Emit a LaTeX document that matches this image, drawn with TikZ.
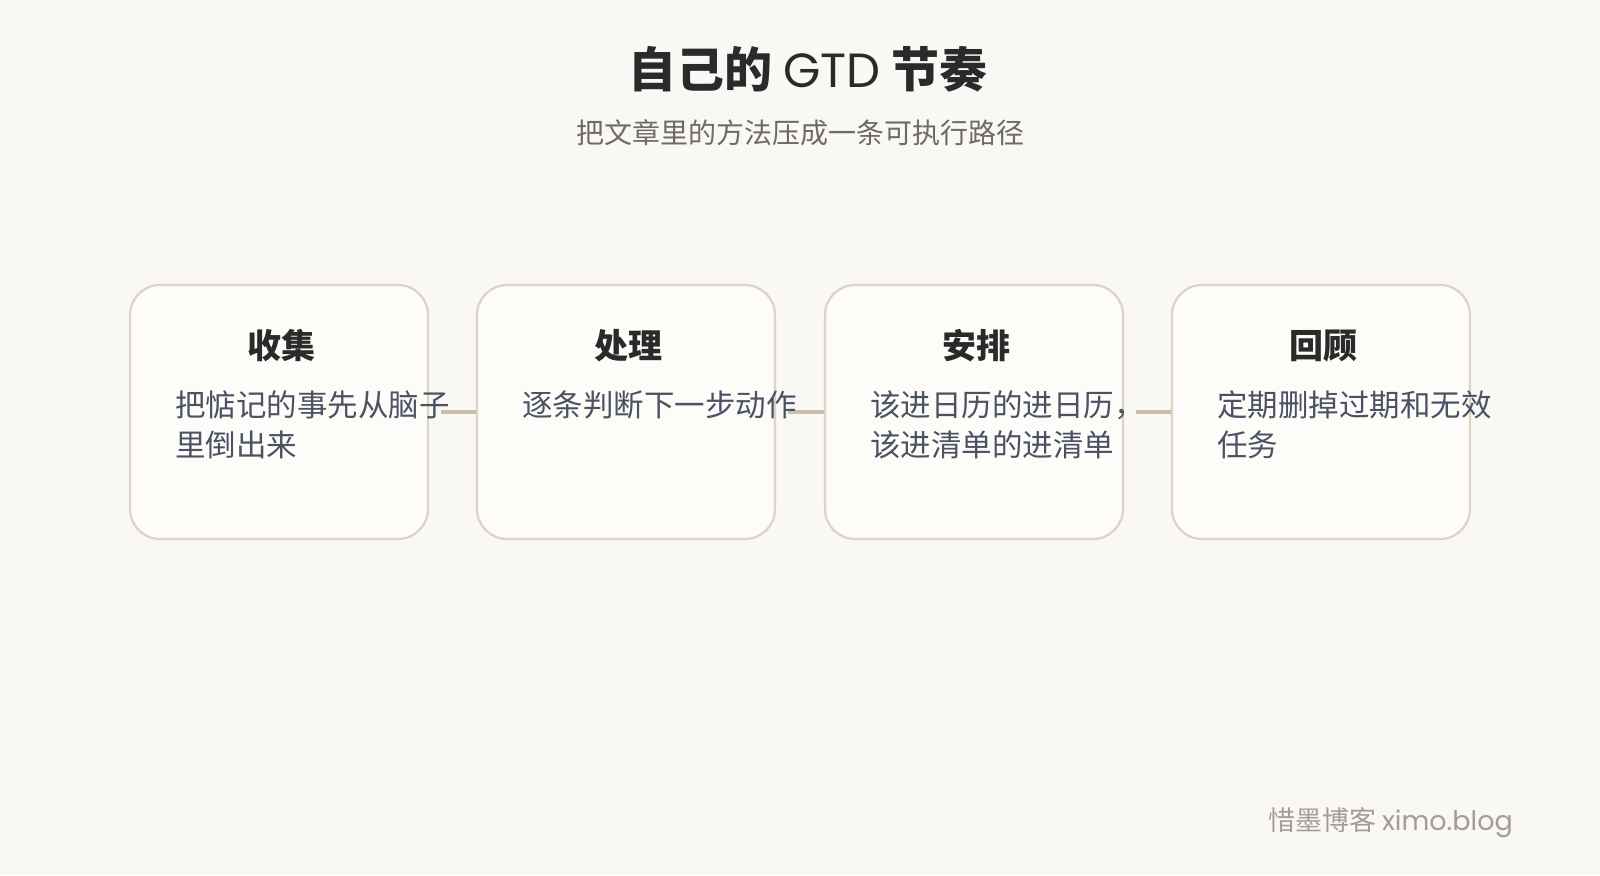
\documentclass[tikz,border=0pt]{standalone}
\usepackage{fontspec}
\setmainfont{Noto Sans CJK SC}
\newfontfamily\cjk{Noto Sans CJK SC}
\newfontfamily\latinf{Poppins}
\definecolor{bgc}{HTML}{F9F8F5}
\definecolor{boxfill}{HTML}{FDFCF9}
\definecolor{boxline}{HTML}{DDD4C5}
\definecolor{connc}{HTML}{C9BEAB}
\definecolor{titlec}{HTML}{2A2A2A}
\definecolor{subc}{HTML}{6E6A64}
\definecolor{bodyc}{HTML}{4A5263}
\definecolor{footc}{HTML}{A39D93}
\tikzset{
  stepbox/.style={draw=boxline, line width=2.2pt, fill=boxfill, rounded corners=30pt,
    minimum width=298pt, minimum height=254pt, inner sep=0pt},
  conn/.style={draw=connc, line width=3.6pt},
  boxtitle/.style={anchor=base, inner sep=0pt, text=titlec, font=\fontsize{34}{40}\selectfont\bfseries},
  boxbody/.style={anchor=base west, inner sep=0pt, text=bodyc, align=left, font=\fontsize{30.5}{40}\selectfont},
}
\begin{document}
\begin{tikzpicture}[x=1pt,y=-1pt]
\fill[bgc] (0,0) rectangle (1600,875);
\useasboundingbox (0,0) rectangle (1600,875);
\node[anchor=base, inner sep=0pt, text=titlec, font=\fontsize{48}{52}\selectfont\bfseries] (title) at (808,87) {自己的 {\latinf\mdseries GTD} 节奏};
\node[anchor=base, inner sep=0pt, text=subc, font=\fontsize{28}{32}\selectfont] (sub) at (800,143) {把文章里的方法压成一条可执行路径};
\node[stepbox] (b1) at (279,412) {};
\node[stepbox] (b2) at (626,412) {};
\node[stepbox] (b3) at (974,412) {};
\node[stepbox] (b4) at (1321,412) {};
\draw[conn] ([xshift=12pt]b1.east) -- (b2.west);
\draw[conn] ([xshift=12pt]b2.east) -- (b3.west);
\draw[conn] ([xshift=12pt]b3.east) -- (b4.west);
\node[boxtitle] (t1) at (281,358) {收集};
\node[boxtitle] (t2) at (628,358) {处理};
\node[boxtitle] (t3) at (976,358) {安排};
\node[boxtitle] (t4) at (1323,358) {回顾};
\node[boxbody] (d1) at (175,456) {把惦记的事先从脑子\\里倒出来};
\node[boxbody] (d2) at (522,416) {逐条判断下一步动作};
\node[boxbody] (d3) at (870,456) {该进日历的进日历，\\该进清单的进清单};
\node[boxbody] (d4) at (1217,456) {定期删掉过期和无效\\任务};
\node[anchor=base east, inner sep=0pt, text=footc, font=\fontsize{27}{30}\selectfont] (foot) at (1513,830) {惜墨博客 {\latinf ximo.blog}};
\end{tikzpicture}
\end{document}
